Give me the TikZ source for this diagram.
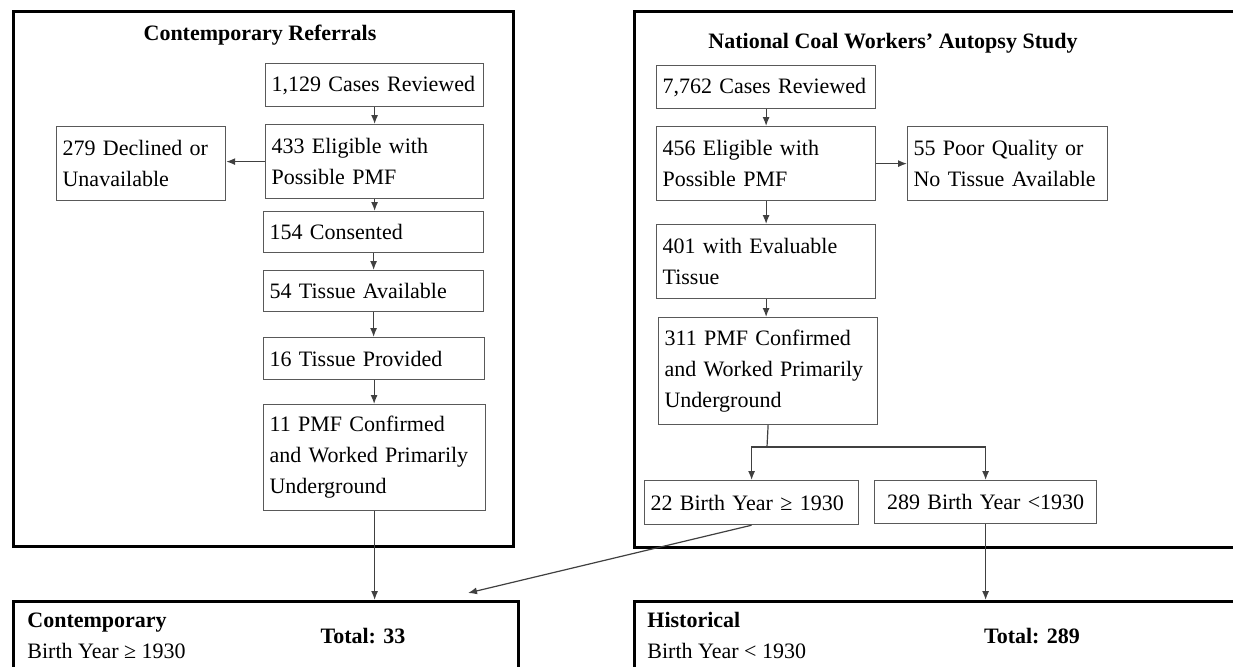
\documentclass[tikz,border=0pt]{standalone}
\usepackage{fontspec}
\setmainfont{Liberation Serif}
\usetikzlibrary{arrows.meta}
\newcommand\chartfont{\fontsize{11}{15.5}\selectfont}
\tikzset{
    stage/.style 2 args={draw=black!65, line width=0.6pt, anchor=north west,
        minimum width=#1*0.5pt, minimum height=#2*0.5pt, text width=#1*0.5pt-6pt,
        inner xsep=3pt, inner ysep=0pt, align=left, font=\chartfont},
    panel/.style 2 args={draw=black, line width=1.6pt, anchor=north west,
        minimum width=#1*0.5pt, minimum height=#2*0.5pt, inner sep=0pt},
    heading/.style={font=\chartfont\bfseries, inner sep=0pt},
    flow/.style={draw=black!75, line width=0.6pt, -{Latex[length=4.5pt,width=3.5pt]}},
    link/.style={draw=black!75, line width=0.6pt}
}
\begin{document}
\begin{tikzpicture}[x=0.5pt, y=-0.5pt]
    \useasboundingbox (0,0) rectangle (1233,666);
    \clip (0,0) rectangle (1233,666);
    \node[panel={500}{535}] (referrals) at (12,10) {};
    \node[panel={610}{536}] (autopsy) at (633,10) {};
    \node[panel={505}{90}] (contemporary) at (12,600) {};
    \node[panel={610}{90}] (historical) at (633,600) {};

    \node[heading, anchor=base] (referralstitle) at (260,40) {Contemporary Referrals};
    \node[heading, anchor=base] (autopsytitle) at (893,48) {National Coal Workers’ Autopsy Study};

    \node[stage={218}{43}] (cases1) at (265,63) {1,129 Cases Reviewed};
    \node[stage={218}{74}] (eligible1) at (265,124) {433 Eligible with\\Possible PMF};
    \node[stage={169}{74}] (declined) at (56,126) {279 Declined or\\Unavailable};
    \node[stage={220}{41}] (consented) at (263,211) {154 Consented};
    \node[stage={220}{41}] (available) at (263,270) {54 Tissue Available};
    \node[stage={221}{42}] (provided) at (263,337) {16 Tissue Provided};
    \node[stage={222}{106}] (confirmed1) at (263,404) {11 PMF Confirmed\\and Worked Primarily\\Underground};

    \node[stage={219}{43}] (cases2) at (656,65) {7,762 Cases Reviewed};
    \node[stage={219}{74}] (eligible2) at (656,126) {456 Eligible with\\Possible PMF};
    \node[stage={200}{74}] (poor) at (907,126) {55 Poor Quality or\\No Tissue Available};
    \node[stage={219}{74}] (evaluable) at (656,224) {401 with Evaluable\\Tissue};
    \node[stage={219}{107}] (confirmed2) at (658,317) {311 PMF Confirmed\\and Worked Primarily\\Underground};
    \node[stage={214}{44}] (young) at (644,480) {22 Birth Year ≥ 1930};
    \node[stage={222}{43}, align=center] (old) at (874,480) {289 Birth Year <1930};

    \node[heading, anchor=base west, align=left] (contemporarylabel) at (27,658)
        {Contemporary\\\mdseries Birth Year ≥ 1930};
    \node[heading, anchor=base] (contemporarytotal) at (363,643) {Total: 33};
    \node[heading, anchor=base west, align=left] (historicallabel) at (647,658)
        {Historical\\\mdseries Birth Year < 1930};
    \node[heading, anchor=base] (historicaltotal) at (1032,643) {Total: 289};

    \draw[flow] (cases1.south) -- (cases1.south |- eligible1.north);
    \draw[flow] (eligible1.west) -- (eligible1.west -| declined.east);
    \draw[flow] (eligible1.south) -- (eligible1.south |- consented.north);
    \draw[flow] (consented.south) -- (consented.south |- available.north);
    \draw[flow] (available.south) -- (available.south |- provided.north);
    \draw[flow] (provided.south) -- (provided.south |- confirmed1.north);
    \draw[flow] (confirmed1.south) -- (confirmed1.south |- contemporary.north);

    \draw[flow] (cases2.south) -- (cases2.south |- eligible2.north);
    \draw[flow] (eligible2.east) -- (eligible2.east -| poor.west);
    \draw[flow] (eligible2.south) -- (eligible2.south |- evaluable.north);
    \draw[flow] (evaluable.south) -- (evaluable.south |- confirmed2.north);
    \coordinate (split) at (767,447);
    \draw[link] (confirmed2.south) -- (split);
    \draw[flow] (split) -| (young.north);
    \draw[flow] (split) -| (old.north);
    \coordinate (merge) at (468,593);
    \draw[flow] (young.south) -- (merge);
    \draw[flow] (old.south) -- (old.south |- historical.north);
\end{tikzpicture}
\end{document}
